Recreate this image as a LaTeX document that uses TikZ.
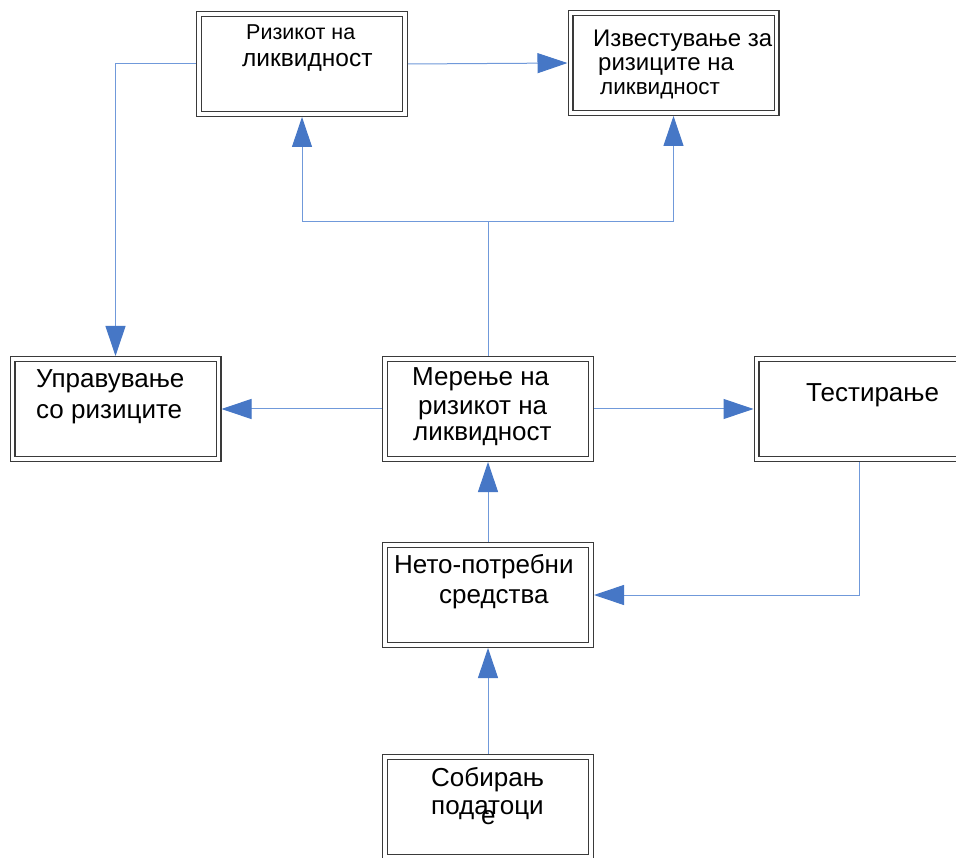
\documentclass[tikz,border=0pt]{standalone}
\usepackage{fontspec}
\setmainfont{Liberation Sans}
\usetikzlibrary{arrows.meta}

\definecolor{linkblue}{HTML}{7099DA}
\definecolor{tipblue}{HTML}{4677C6}
\definecolor{frame}{HTML}{3A3A3A}

\tikzset{
  x=1pt, y=-1pt,
  dbox/.style={draw=frame, line width=1.3pt, double=white, double distance=3.4pt,
    fill=white, minimum width=206pt, minimum height=100pt, inner sep=0pt,
    outer sep=3pt},
  lbl/.style={anchor=base west, inner sep=0pt, font=\fontsize{26}{29}\selectfont},
  lblmid/.style={lbl, font=\fontsize{24}{27}\selectfont},
  lblsmall/.style={lbl, font=\fontsize{21.5}{24}\selectfont},
  link/.style={draw=linkblue, line width=1pt},
  arr/.style={link, -{Triangle[length=30pt, width=20pt, color=tipblue]}}
}

\begin{document}
\begin{tikzpicture}
\useasboundingbox (0,0) rectangle (956,858);
\clip (0,0) rectangle (956,858);
\fill[white] (0,0) rectangle (956,858);

% boxes
\node[dbox] (R) at (302,64) {};
\node[dbox] (I) at (673.5,63) {};
\node[dbox] (U) at (115.5,409) {};
\node[dbox] (M) at (488,409) {};
\node[dbox] (T) at (859.5,409) {};
\node[dbox] (N) at (488,595) {};
\node[dbox] (S) at (488,807) {};

% connectors
\draw[arr] (R.west) -| (U.north);
\draw[arr] (R.east) -- (I.west);
\coordinate (fork) at (488,222);
\draw[link] (M.north) -- (fork);
\draw[arr] (fork) -| (R.south);
\draw[arr] (fork) -| (I.south);
\draw[arr] (M.west) -- (U.east);
\draw[arr] (M.east) -- (T.west);
\draw[arr] (T.south) |- (N.east);
\draw[arr] (N.north) -- (M.south);
\draw[arr] (S.north) -- (N.south);

% labels
\node[lblsmall] (r1) at (246,40) {Ризикот на};
\node[lblmid, font=\fontsize{24.5}{27}\selectfont] (r2) at (242,67) {ликвидност};

\node[lblmid] (i1) at (593,47) {Известување за};
\node[lblmid] (i2) at (598,71) {ризиците на};
\node[lblmid, font=\fontsize{22.5}{25}\selectfont] (i3) at (600,95) {ликвидност};

\node[lbl] (u1) at (36,388) {Управување};
\node[lbl] (u2) at (36,419) {со ризиците};

\node[lbl] (m1) at (412,386) {Мерење на};
\node[lbl] (m2) at (418,414) {ризикот на};
\node[lbl] (m3) at (413,441) {ликвидност};

\node[lbl] (t1) at (806,402) {Тестирање};

\node[lbl] (n1) at (394,573) {Нето-потребни};
\node[lbl] (n2) at (439,603) {средства};

\node[lbl] (s1) at (431,786) {Собирањ};
\node[lbl] (s2) at (431,814) {податоци};
\node[lbl] (s3) at (481,824) {е};
\end{tikzpicture}
\end{document}
